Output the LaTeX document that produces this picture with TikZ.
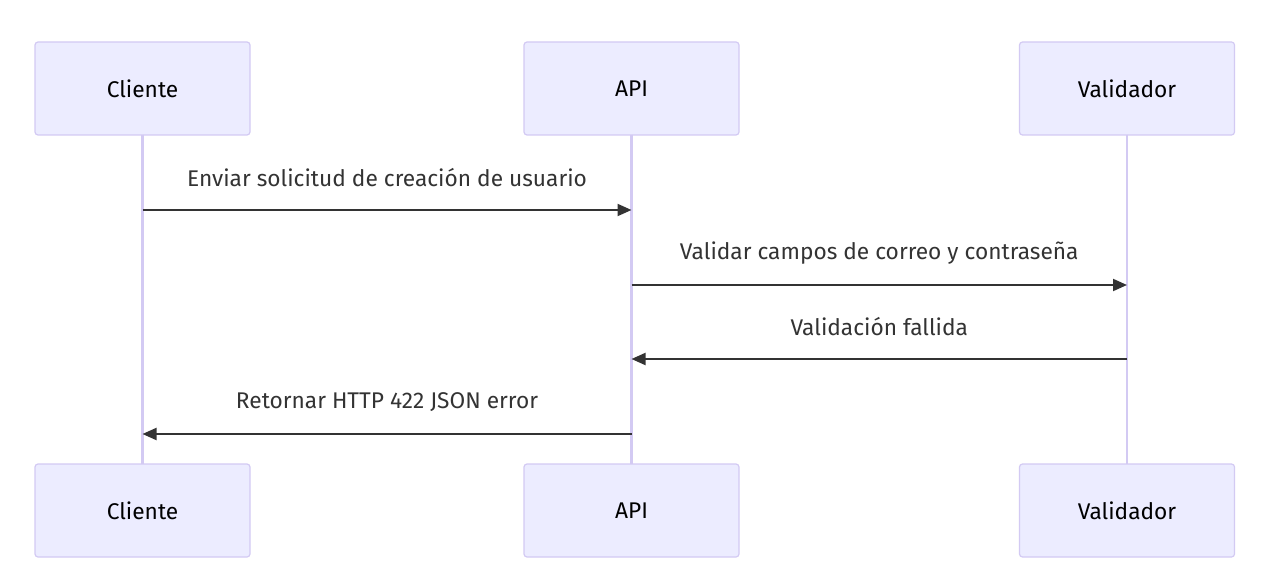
\documentclass[tikz,border=0pt]{standalone}
\usepackage{fontspec}
\setmainfont{Fira Sans}
\usepackage{xcolor}
\usepackage{tikz}
\usetikzlibrary{arrows.meta,positioning}
\definecolor{actfill}{HTML}{ECECFF}
\definecolor{actline}{HTML}{D3CAF3}
\definecolor{msgcol}{HTML}{333333}
\begin{document}
\begin{tikzpicture}[x=1pt,y=-1pt,
    actor/.style={draw=actline,fill=actfill,rounded corners=3pt,line width=1.2pt,minimum width=215pt,minimum height=93pt,outer sep=0pt,font=\fontsize{22.7}{27}\selectfont},
    life/.style={draw=actline,line width=2.4pt},
    msg/.style={-{Triangle[length=14pt,width=12pt]},line width=2pt,color=msgcol},
    lbl/.style={font=\fontsize{22.7}{27}\selectfont,text=msgcol}]
  \useasboundingbox[fill=white] (0,0) rectangle (1278,583);
  % actors
  \node[actor] (cliT) at (142.5,88.5) {Cliente};
  \node[actor] (apiT) at (631.5,88.5) {API};
  \node[actor] (valT) at (1127,88.5) {Validador};
  \node[actor,below=329pt of cliT] (cliB) {Cliente};
  \node[actor,below=329pt of apiT] (apiB) {API};
  \node[actor,below=329pt of valT] (valB) {Validador};
  % lifelines
  \draw[life] (cliT.south) -- (cliB.north);
  \draw[life] (apiT.south) -- (apiB.north);
  \draw[life] (valT.south) -- (valB.north);
  % messages
  \coordinate (r1) at (0,210);
  \coordinate (r2) at (0,285);
  \coordinate (r3) at (0,359);
  \coordinate (r4) at (0,434);
  \draw[msg] (cliT |- r1) -- (apiT |- r1) node[lbl,midway,yshift=32pt] (m1) {Enviar solicitud de creación de usuario};
  \draw[msg] (apiT |- r2) -- (valT |- r2) node[lbl,midway,yshift=32pt] (m2) {Validar campos de correo y contraseña};
  \draw[msg] (valT |- r3) -- (apiT |- r3) node[lbl,midway,yshift=32pt] (m3) {Validación fallida};
  \draw[msg] (apiT |- r4) -- (cliT |- r4) node[lbl,midway,yshift=32pt] (m4) {Retornar HTTP 422 JSON error};
\end{tikzpicture}
\end{document}
